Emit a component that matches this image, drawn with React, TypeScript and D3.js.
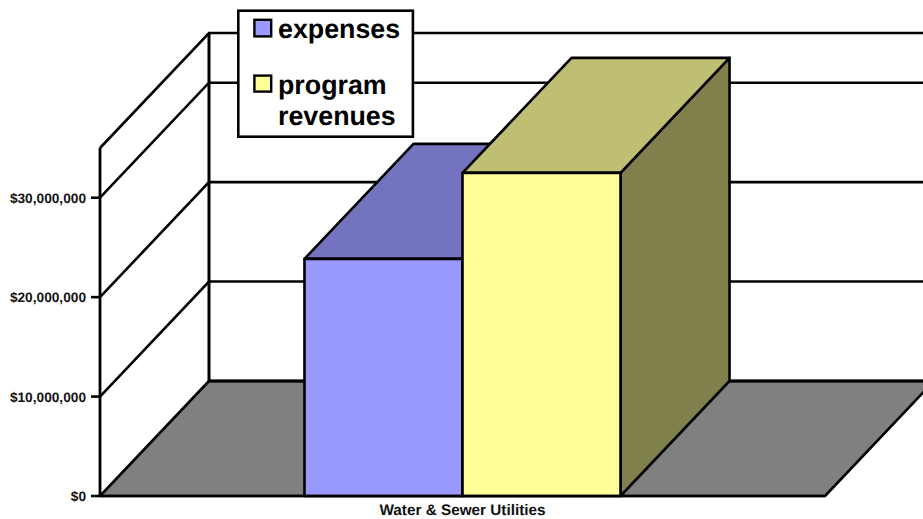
import React, { useEffect, useRef } from 'react'
import * as d3 from 'd3'

const categories = ['Water & Sewer Utilities']
const seriesNames = ['expenses', 'program revenues']
const expenses = [23850000]
const programRevenues = [32500000]
const tickValues = [0, 10000000, 20000000, 30000000]
const axisMax = 35000000

const W = 923
const H = 519
const depthX = 109
const depthY = 115
const FONT = '"Liberation Sans", Arial, sans-serif'

// front face colours, top and side are the shaded versions
const fills = [
  { front: '#9999ff', top: '#7373bf', side: '#5c5c99' },
  { front: '#ffff99', top: '#bfbf73', side: '#80804d' },
]

export default function App() {
  const ref = useRef<SVGSVGElement>(null)

  useEffect(() => {
    const svg = d3.select(ref.current)
    svg.selectAll('*').remove()

    const y = d3.scaleLinear().domain([0, axisMax]).range([496, 148])
    const x0 = d3.scaleBand().domain(categories).range([100, 825]).paddingOuter(0.647).paddingInner(0)
    const x1 = d3.scaleBand().domain(seriesNames).range([0, x0.bandwidth()])

    const line = d3.line()
    const ink = '#000'

    // floor
    const left = x0.range()[0]
    const right = x0.range()[1]
    svg.append('path')
      .attr('d', line([[left, y(0)], [right, y(0)], [right + depthX, y(0) - depthY], [left + depthX, y(0) - depthY]]) + 'Z')
      .attr('fill', '#808080').attr('stroke', ink).attr('stroke-width', 2.6).attr('stroke-linejoin', 'round')

    // back and side wall grid lines
    const gridTicks = [...tickValues.slice(1), axisMax]
    gridTicks.forEach(t => {
      svg.append('path')
        .attr('d', line([[left, y(t)], [left + depthX, y(t) - depthY], [W + 4, y(t) - depthY]]))
        .attr('fill', 'none').attr('stroke', ink).attr('stroke-width', 2.6)
    })
    // thicker line along the back of the floor
    svg.append('path')
      .attr('d', line([[left + depthX, y(0) - depthY], [W + 4, y(0) - depthY]]))
      .attr('fill', 'none').attr('stroke', ink).attr('stroke-width', 3)

    // wall verticals
    svg.append('line')
      .attr('x1', left).attr('x2', left).attr('y1', y(0)).attr('y2', y(axisMax))
      .attr('stroke', ink).attr('stroke-width', 2.8)
    svg.append('line')
      .attr('x1', left + depthX).attr('x2', left + depthX).attr('y1', y(0) - depthY).attr('y2', y(axisMax) - depthY)
      .attr('stroke', ink).attr('stroke-width', 3)

    // value axis
    const money = d3.format('$,.0f')
    tickValues.forEach(t => {
      svg.append('line')
        .attr('x1', left - 9).attr('x2', left).attr('y1', y(t)).attr('y2', y(t))
        .attr('stroke', ink).attr('stroke-width', 2.6)
      svg.append('text')
        .attr('x', left - 14).attr('y', y(t) + 5)
        .attr('text-anchor', 'end')
        .attr('text-rendering', 'geometricPrecision')
        .attr('font-family', FONT).attr('font-weight', 'bold').attr('font-size', 13.7)
        .attr('fill', '#111')
        .text(money(t))
    })

    // bars
    const values = [expenses, programRevenues]
    seriesNames.forEach((name, s) => {
      categories.forEach((cat, c) => {
        const bx = (x0(cat) as number) + (x1(name) as number)
        const bw = x1.bandwidth()
        const top = y(values[s][c])
        const base = y(0)
        const g = svg.append('g')
          .attr('stroke', ink).attr('stroke-width', 2.6).attr('stroke-linejoin', 'round')
        g.append('path')
          .attr('d', line([[bx + bw, base], [bx + bw + depthX, base - depthY], [bx + bw + depthX, top - depthY], [bx + bw, top]]) + 'Z')
          .attr('fill', fills[s].side)
        g.append('path')
          .attr('d', line([[bx, top], [bx + depthX, top - depthY], [bx + bw + depthX, top - depthY], [bx + bw, top]]) + 'Z')
          .attr('fill', fills[s].top)
        g.append('rect')
          .attr('x', bx).attr('y', top).attr('width', bw).attr('height', base - top)
          .attr('fill', fills[s].front)
      })
    })

    // axis baseline over the bar bottoms
    svg.append('line')
      .attr('x1', left).attr('x2', right).attr('y1', y(0)).attr('y2', y(0))
      .attr('stroke', ink).attr('stroke-width', 2.6)

    // category label
    svg.append('text')
      .attr('x', (x0(categories[0]) as number) + x0.bandwidth() / 2).attr('y', 515)
      .attr('text-anchor', 'middle')
      .attr('text-rendering', 'geometricPrecision')
      .attr('font-family', FONT).attr('font-weight', 'bold').attr('font-size', 15.3)
      .attr('fill', '#111')
      .text(categories[0])

    // legend
    const legend = svg.append('g')
    legend.append('rect')
      .attr('x', 238.3).attr('y', 10.7).attr('width', 174.6).attr('height', 126)
      .attr('fill', '#fff').attr('stroke', ink).attr('stroke-width', 2.6)

    const legendRows = [
      { swatchY: 19.8, size: 16.6, lines: [seriesNames[0]], textY: [38] },
      { swatchY: 75.6, size: 16, lines: seriesNames[1].split(' '), textY: [94, 125] },
    ]
    legendRows.forEach((row, i) => {
      legend.append('rect')
        .attr('x', 254.4).attr('y', row.swatchY).attr('width', 16.8).attr('height', row.size)
        .attr('fill', fills[i].front).attr('stroke', ink).attr('stroke-width', 2.4)
      row.lines.forEach((txt, j) => {
        legend.append('text')
          .attr('x', 278).attr('y', row.textY[j])
          .attr('text-rendering', 'geometricPrecision')
          .attr('font-family', FONT).attr('font-weight', 'bold').attr('font-size', 26.8)
          .attr('fill', '#000')
          .text(txt)
      })
    })
  }, [])

  return (
    <svg
      ref={ref}
      width={W}
      height={H}
      style={{ position: 'absolute', left: 0, top: 0, display: 'block', background: '#fff' }}
    />
  )
}
